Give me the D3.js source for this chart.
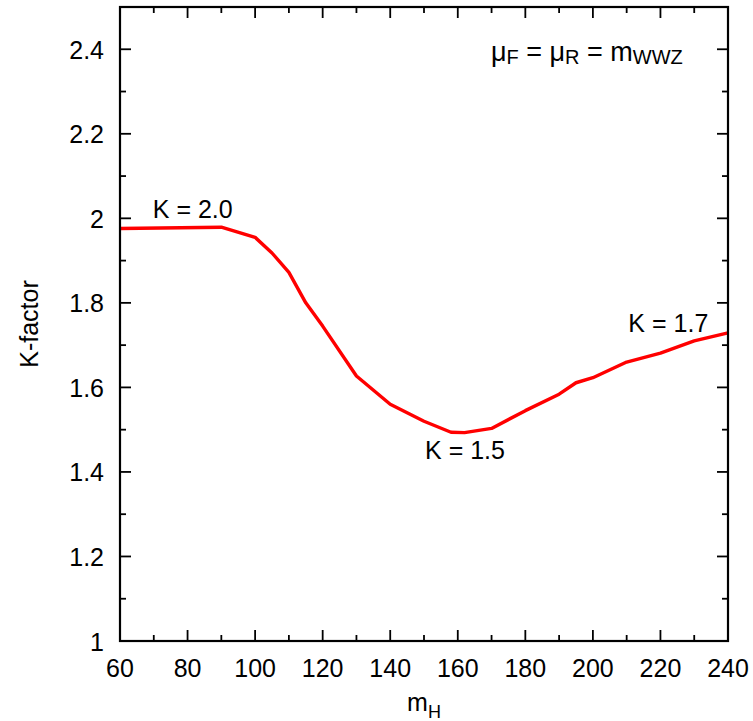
<!DOCTYPE html>
<html>
<head>
<meta charset="utf-8">
<script src="https://cdn.jsdelivr.net/npm/d3@7"></script>
<style>
  html, body { margin: 0; padding: 0; background: #fff; }
  text { font-family: "Liberation Sans", Arial, Helvetica, sans-serif; fill: #000; }
</style>
</head>
<body>
<script>
// Higgs mass (GeV) and the NLO/LO K-factor for WWZ production
const massValues = [60, 90, 100, 105, 110, 115, 120, 130, 140, 150, 158, 162, 170, 180, 190, 195, 200, 210, 220, 230, 240];
const kValues    = [1.976, 1.979, 1.955, 1.918, 1.872, 1.800, 1.745, 1.627, 1.560, 1.520, 1.494, 1.493, 1.503, 1.545, 1.584, 1.611, 1.623, 1.660, 1.681, 1.710, 1.729];

const xTicks = [60, 80, 100, 120, 140, 160, 180, 200, 220, 240];
const xMinorTicks = [70, 90, 110, 130, 150, 170, 190, 210, 230];
const yTicks = [1, 1.2, 1.4, 1.6, 1.8, 2, 2.2, 2.4];
const yMinorTicks = [1.1, 1.3, 1.5, 1.7, 1.9, 2.1, 2.3, 2.5];

// in-plot value labels: [text, mass, K]
const valueLabels = [["K = 2.0", 70, 2.0], ["K = 1.5", 150.6, 1.43], ["K = 1.7", 210.8, 1.73]];

const W = 753, H = 721;
const plot = { left: 120, right: 728, top: 7, bottom: 641 };

const svg = d3.select("body").append("svg").attr("width", W).attr("height", H);
svg.append("rect").attr("width", W).attr("height", H).attr("fill", "#fff");

const x = d3.scaleLinear().domain([60, 240]).range([plot.left, plot.right]);
const y = d3.scaleLinear().domain([1, 2.5]).range([plot.bottom, plot.top]);

const majorLen = 11, minorLen = 6, tickW = 1.8;
const g = svg.append("g");

// ticks on all four sides, pointing inward
function xTick(v, len) {
  g.append("line").attr("x1", x(v)).attr("x2", x(v)).attr("y1", plot.bottom).attr("y2", plot.bottom - len)
    .attr("stroke", "#000").attr("stroke-width", tickW);
  g.append("line").attr("x1", x(v)).attr("x2", x(v)).attr("y1", plot.top).attr("y2", plot.top + len)
    .attr("stroke", "#000").attr("stroke-width", tickW);
}
function yTick(v, len) {
  g.append("line").attr("y1", y(v)).attr("y2", y(v)).attr("x1", plot.left).attr("x2", plot.left + len)
    .attr("stroke", "#000").attr("stroke-width", tickW);
  g.append("line").attr("y1", y(v)).attr("y2", y(v)).attr("x1", plot.right).attr("x2", plot.right - len)
    .attr("stroke", "#000").attr("stroke-width", tickW);
}
xTicks.forEach(v => xTick(v, majorLen));
xMinorTicks.forEach(v => xTick(v, minorLen));
yTicks.forEach(v => yTick(v, majorLen));
yMinorTicks.forEach(v => yTick(v, minorLen));

// tick labels
g.selectAll(".xl").data(xTicks).join("text")
  .attr("x", d => x(d)).attr("y", 677).attr("text-anchor", "middle")
  .attr("font-size", 25).text(d => d);
g.selectAll(".yl").data(yTicks).join("text")
  .attr("x", 104).attr("y", d => y(d) + 9.5).attr("text-anchor", "end")
  .attr("font-size", 25).text(d => String(d));

// K-factor curve
const line = d3.line().x((d, i) => x(massValues[i])).y(d => y(d));
svg.append("path").datum(kValues).attr("d", line)
  .attr("fill", "none").attr("stroke", "#ff0000").attr("stroke-width", 3.4)
  .attr("stroke-linejoin", "round");

// frame
svg.append("rect").attr("x", plot.left).attr("y", plot.top)
  .attr("width", plot.right - plot.left).attr("height", plot.bottom - plot.top)
  .attr("fill", "none").attr("stroke", "#000").attr("stroke-width", 2.2);

// value labels
svg.selectAll(".vl").data(valueLabels).join("text")
  .attr("x", d => x(d[1]) - 1).attr("y", d => y(d[2])).attr("font-size", 25).text(d => d[0]);

// scale choice annotation
const ann = svg.append("text").attr("x", 491).attr("y", 61).attr("font-size", 27);
ann.append("tspan").text("μ");
ann.append("tspan").attr("font-size", 20).attr("dy", 3).text("F");
ann.append("tspan").attr("dy", -3).text(" = μ");
ann.append("tspan").attr("font-size", 20).attr("dy", 3).text("R");
ann.append("tspan").attr("dy", -3).text(" = m");
ann.append("tspan").attr("font-size", 20).attr("dy", 3).text("WWZ");

// axis titles
const xt = svg.append("text").attr("x", (plot.left + plot.right) / 2).attr("y", 711)
  .attr("text-anchor", "middle").attr("font-size", 25);
xt.append("tspan").text("m");
xt.append("tspan").attr("font-size", 18).attr("dy", 7).text("H");

svg.append("text").attr("transform", `translate(38,${(plot.top + plot.bottom) / 2}) rotate(-90)`)
  .attr("text-anchor", "middle").attr("font-size", 25).text("K-factor");
</script>
</body>
</html>
